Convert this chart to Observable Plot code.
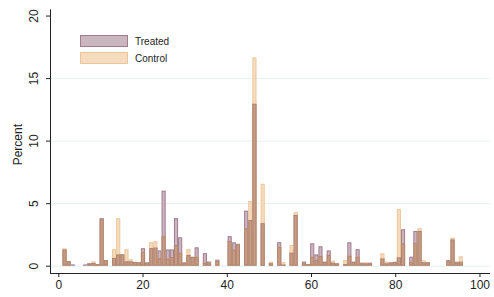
<!DOCTYPE html>
<html><head><meta charset="utf-8">
<script src="https://cdn.jsdelivr.net/npm/d3@7"></script>
<script src="https://cdn.jsdelivr.net/npm/@observablehq/plot@0.6"></script>
<style>
body{margin:0;background:#fff;}
#wrap{position:relative;width:494px;height:297px;font-family:"Liberation Sans",Arial,sans-serif;}
#legend{position:absolute;left:80px;top:35px;font-size:10px;color:#1e1e1e;}
.row{display:flex;align-items:center;height:12px;margin-bottom:5px;}
.sw{width:46px;height:10px;border:1px solid;margin-right:7px;}
</style></head><body>
<div id="wrap"><div id="legend"></div></div>
<script>
// Histogram bins: 100 bins from 1, width 0.98
const binStart = 1;
const binWidth = 0.98;
const seriesNames = ["Treated", "Control"];
const treated = [
  1.30,0.37,0.10,0.00,0.00,0.10,0.20,0.22,0.13,3.80,
  0.45,0.05,0.62,0.90,0.90,0.35,0.35,0.30,0.28,1.40,
  0.25,1.40,1.45,1.22,6.00,1.30,1.30,3.80,2.27,0.25,
  0.86,0.70,1.47,0.00,1.00,0.33,0.00,0.48,0.04,0.00,
  2.36,1.87,1.75,0.00,4.40,3.65,12.95,0.00,3.40,0.00,
  0.20,0.00,1.88,0.10,0.00,1.04,4.06,0.00,0.33,0.13,
  1.79,0.90,1.55,0.32,1.22,0.24,0.19,0.00,0.13,1.87,
  0.32,1.32,0.24,0.19,0.24,0.05,0.00,0.58,0.19,0.25,
  0.30,0.67,2.91,0.00,0.72,2.78,2.78,0.27,0.27,0.00,
  0.05,0.05,0.05,0.45,2.10,0.32,0.32,0.00,0.00,0.05
];
const control = [
  1.39,0.35,0.06,0.03,0.05,0.06,0.15,0.35,0.13,3.72,
  0.45,0.03,1.32,3.80,0.90,1.32,0.52,0.30,0.30,1.12,
  0.25,1.88,1.97,0.60,2.35,0.58,0.70,1.65,1.05,0.25,
  1.33,0.72,0.72,0.00,0.25,0.20,0.04,0.40,0.02,0.00,
  1.98,1.30,1.72,0.00,3.00,5.18,16.65,0.00,6.55,0.00,
  0.32,0.04,1.52,0.28,0.00,1.66,4.28,0.00,0.20,0.12,
  0.72,0.45,0.78,0.30,0.86,0.40,0.18,0.00,0.45,0.80,
  0.30,0.72,0.20,0.27,0.20,0.00,0.00,0.99,0.32,0.27,
  0.32,4.53,1.80,0.00,0.32,1.84,3.00,0.43,0.27,0.00,
  0.03,0.03,0.03,0.40,2.25,0.24,0.75,0.04,0.00,0.03
];
const xTicks = [0, 20, 40, 60, 80, 100];
const yTicks = [0, 5, 10, 15, 20];
const gridTicks = [0, 5, 10, 15];
const yTitle = "Percent";

const colors = {
  Treated: {fill: "#cbb6c0", stroke: "#a17b8e"},
  Control: {fill: "#f5dcbf", stroke: "#ecc69b"},
  Overlap: {fill: "#c69b82", stroke: "#ae8471"}
};

function rowsOf(vals, name) {
  return vals.map((v, i) => ({series: name, x1: binStart + i * binWidth, x2: binStart + (i + 1) * binWidth, y: v}))
             .filter(d => d.y > 0);
}
const tRows = rowsOf(treated, "Treated");
const cRows = rowsOf(control, "Control");
// where both histograms cover the same area, the translucent colours mix
const oRows = rowsOf(treated.map((v, i) => Math.min(v, control[i])), "Overlap");

const xDomain = [-1.97, 102.5];
const yDomain = [-0.584, 20.5];

const barOpts = (c) => ({x1: "x1", x2: "x2", y1: 0, y2: "y", fill: c.fill, stroke: c.stroke, strokeWidth: 1, inset: 0.5});

const chart = Plot.plot({
  width: 494, height: 297,
  marginLeft: 50, marginRight: 4, marginTop: 9.3, marginBottom: 24,
  x: {domain: xDomain},
  y: {domain: yDomain},
  style: {fontFamily: "'Liberation Sans', Arial, sans-serif", fontSize: "12px", color: "#1e1e1e", background: "#fff"},
  marks: [
    Plot.gridY(gridTicks, {stroke: "#e6eff0", strokeOpacity: 1, strokeWidth: 1}),
    Plot.rectY(tRows, barOpts(colors.Treated)),
    Plot.rectY(cRows, barOpts(colors.Control)),
    Plot.rectY(oRows, barOpts(colors.Overlap)),
    Plot.ruleX([xDomain[0]], {stroke: "#222", strokeWidth: 1}),
    Plot.ruleY([yDomain[0]], {stroke: "#222", strokeWidth: 1}),
    Plot.axisX({ticks: xTicks, tickSize: 4, tickPadding: 3, label: null, stroke: "#222", fontSize: 12}),
    Plot.axisY({ticks: yTicks, tickSize: 4, label: null, stroke: "#222", tickFormat: () => ""}),
    Plot.text(yTicks, {y: d => d, text: d => String(d), frameAnchor: "left", dx: -16, rotate: -90, lineAnchor: "middle", textAnchor: "middle", fontSize: 12}),
    Plot.text([yTitle], {text: d => d, frameAnchor: "left", dx: -32.5, dy: 3, rotate: -90, lineAnchor: "middle", textAnchor: "middle", fontSize: 12})
  ]
});
const wrap = document.getElementById("wrap");
wrap.insertBefore(chart, wrap.firstChild);

const legend = document.getElementById("legend");
for (const name of seriesNames) {
  const row = document.createElement("div");
  row.className = "row";
  const sw = document.createElement("div");
  sw.className = "sw";
  sw.style.background = colors[name].fill;
  sw.style.borderColor = colors[name].stroke;
  const lab = document.createElement("span");
  lab.textContent = name;
  row.appendChild(sw); row.appendChild(lab);
  legend.appendChild(row);
}
</script>
</body></html>
